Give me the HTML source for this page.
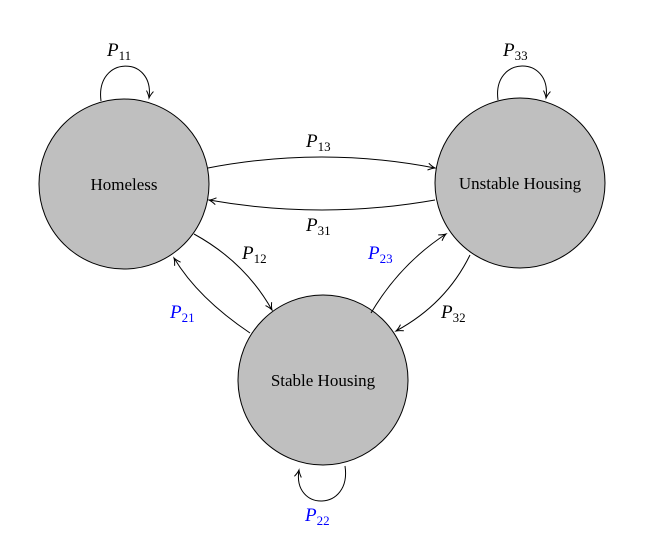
<!DOCTYPE html>
<html><head><meta charset="utf-8"><style>
html,body{margin:0;padding:0;background:#fff;}
svg{display:block;}
text{font-family:"Liberation Serif","DejaVu Serif",serif;}
</style></head><body>
<svg width="648" height="546" viewBox="0 0 648 546" xmlns="http://www.w3.org/2000/svg">
<defs>
<marker id="a" markerWidth="10" markerHeight="10" refX="8" refY="5" orient="auto" markerUnits="userSpaceOnUse">
<path d="M1,1.5 Q5,4.2 8,5 Q5,5.8 1,8.5" fill="none" stroke="#000" stroke-width="1"/>
</marker>
</defs>
<g fill="#bfbfbf" stroke="#000" stroke-width="1">
<circle cx="124" cy="184" r="85"/>
<circle cx="520" cy="183" r="85"/>
<circle cx="323" cy="380" r="85"/>
</g>
<g fill="none" stroke="#000" stroke-width="1" marker-end="url(#a)">
<path d="M208,168 Q322,146 435,168"/>
<path d="M435,200 Q322,220 209,200"/>
<path d="M194,234 Q245,262 272,310"/>
<path d="M250,333 Q198,298 174,258"/>
<path d="M371,313 Q400,264 446,234"/>
<path d="M470,255 Q446,304 396,331"/>
<path d="M101,101 C95,55 155,55 149,98"/>
<path d="M498,100 C492,55 552,55 546,98"/>
<path d="M345,466 C352,512 292,512 299,470"/>
</g>
<g font-size="17" text-anchor="middle">
<text x="124" y="190">Homeless</text>
<text x="520" y="189">Unstable Housing</text>
<text x="323" y="386">Stable Housing</text>
</g>
<g font-size="19" font-style="italic">
<text x="107" y="56">P<tspan font-size="13" font-style="normal" dy="4">11</tspan></text>
<text x="503" y="56">P<tspan font-size="13" font-style="normal" dy="4">33</tspan></text>
<text x="306" y="147">P<tspan font-size="13" font-style="normal" dy="4">13</tspan></text>
<text x="306" y="231">P<tspan font-size="13" font-style="normal" dy="4">31</tspan></text>
<text x="242" y="259">P<tspan font-size="13" font-style="normal" dy="4">12</tspan></text>
<text x="441" y="318">P<tspan font-size="13" font-style="normal" dy="4">32</tspan></text>
<g fill="#0000ff">
<text x="170" y="318">P<tspan font-size="13" font-style="normal" dy="4">21</tspan></text>
<text x="368" y="259">P<tspan font-size="13" font-style="normal" dy="4">23</tspan></text>
<text x="305" y="521">P<tspan font-size="13" font-style="normal" dy="4">22</tspan></text>
</g>
</g>
</svg>
</body></html>
